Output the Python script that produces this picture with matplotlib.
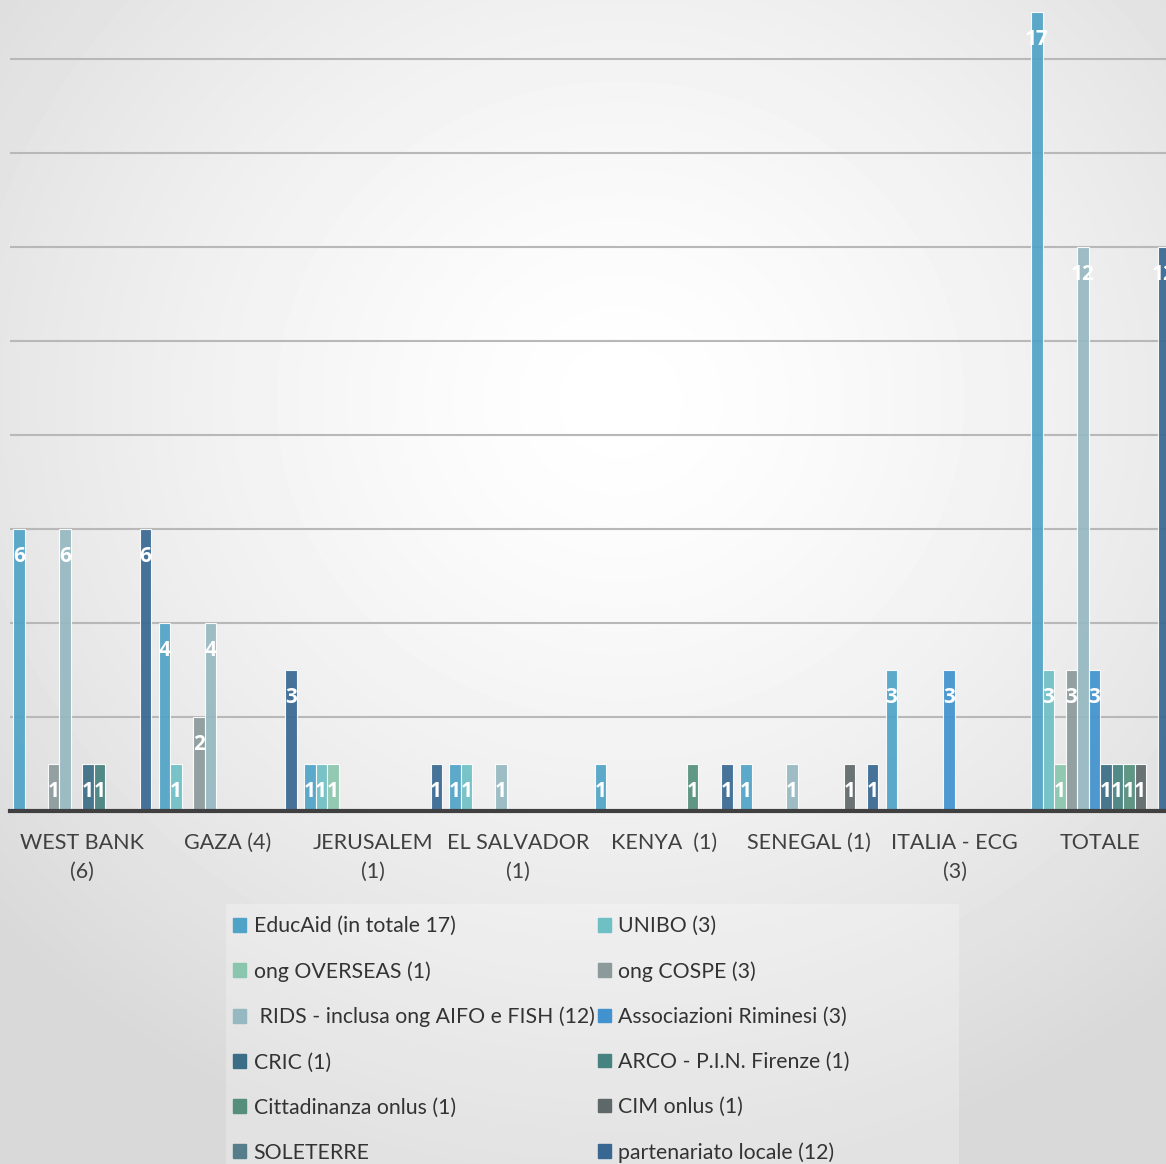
import numpy as np
import matplotlib.pyplot as plt

categories = ["WEST BANK\n(6)", "GAZA (4)", "JERUSALEM\n(1)", "EL SALVADOR\n(1)",
              "KENYA  (1)", "SENEGAL (1)", "ITALIA - ECG\n(3)", "TOTALE"]

series_names = ["EducAid (in totale 17)", "UNIBO (3)", "ong OVERSEAS (1)", "ong COSPE (3)",
                " RIDS - inclusa ong AIFO e FISH (12)", "Associazioni Riminesi (3)",
                "CRIC (1)", "ARCO - P.I.N. Firenze (1)", "Cittadinanza onlus (1)",
                "CIM onlus (1)", "SOLETERRE", "partenariato locale (12)"]

# one list per series, values per category
educaid      = [6, 4, 1, 1, 1, 1, 3, 17]
unibo        = [0, 1, 1, 1, 0, 0, 0, 3]
overseas     = [0, 0, 1, 0, 0, 0, 0, 1]
cospe        = [1, 2, 0, 0, 0, 0, 0, 3]
rids         = [6, 4, 0, 1, 0, 1, 0, 12]
riminesi     = [0, 0, 0, 0, 0, 0, 3, 3]
cric         = [1, 0, 0, 0, 0, 0, 0, 1]
arco         = [1, 0, 0, 0, 0, 0, 0, 1]
cittadinanza = [0, 0, 0, 0, 1, 0, 0, 1]
cim          = [0, 0, 0, 0, 0, 1, 0, 1]
soleterre    = [0, 0, 0, 0, 0, 0, 0, 0]
partenariato = [6, 3, 1, 0, 1, 1, 0, 12]

values = [educaid, unibo, overseas, cospe, rids, riminesi, cric, arco,
          cittadinanza, cim, soleterre, partenariato]

colors = ["#4fa3c7", "#6fc0c5", "#8ac6ae", "#8c9a9b", "#96b8c1", "#4192cf",
          "#3b6e86", "#46827f", "#558f7c", "#5f6869", "#557d8a", "#386792"]

W, H = 1166, 1164
fig = plt.figure(figsize=(W / 100, H / 100), dpi=100)

# radial grey background
bg = fig.add_axes([0, 0, 1, 1], zorder=-2)
yy, xx = np.mgrid[0:H, 0:W]
r = np.sqrt(((xx - 620) / 840.0) ** 2 + ((yy - 400) / 780.0) ** 2)
shade = 1.0 - 0.15 * np.clip(r, 0, 1) ** 1.4
bg.imshow(shade, cmap="gray", vmin=0, vmax=1, aspect="auto", interpolation="bilinear")
bg.axis("off")

# legend box (slightly lighter panel)
bg.add_patch(plt.Rectangle((225, 903), 733, 270, color="white", alpha=0.25, lw=0))

cat_w = 145.4  # pixels per category
left_px = 9.5
base_px = 811
unit_px = 47.0

ax = fig.add_axes([left_px / W, (H - base_px) / H, (W - left_px) / W, base_px / H])
ax.patch.set_alpha(0)
ax.set_xlim(-0.5, -0.5 + (W - left_px) / cat_w)
ax.set_ylim(0, base_px / unit_px)

for g in range(2, 18, 2):
    ax.axhline(g, color="#b8b8b8", lw=1.5, zorder=1)

bw = 11.5 / cat_w
x = np.arange(len(categories))
for i, (vals, c) in enumerate(zip(values, colors)):
    pos = x + bw * (i - 5.5)
    vals = np.array(vals)
    mask = vals > 0
    ax.bar(pos[mask], vals[mask], width=bw, color=c, alpha=0.92,
           edgecolor=(1, 1, 1, 0.5), lw=0.8, zorder=2)
    for p, v in zip(pos[mask], vals[mask]):
        ax.text(p, v - 0.58, str(v), ha="center", va="center", color="white",
                fontsize=15, fontweight="bold", family="Open Sans", zorder=4,
                clip_on=False)

for s in ["left", "right", "top"]:
    ax.spines[s].set_visible(False)
ax.spines["bottom"].set_color("#404040")
ax.spines["bottom"].set_linewidth(3)
ax.spines["bottom"].set_zorder(5)
ax.set_yticks([])
ax.set_xticks(x)
ax.set_xticklabels(categories, fontsize=15.5, color="#404040", family="Lato",
                   linespacing=1.55, va="top")
ax.tick_params(axis="x", length=0, pad=16)

# legend: Excel fills rows, matplotlib fills columns -> reorder
order = list(range(0, 12, 2)) + list(range(1, 12, 2))
handles = [plt.Rectangle((0, 0), 1, 1, color=c) for c in colors]
leg = fig.legend([handles[k] for k in order], [series_names[k] for k in order],
                 loc="upper left", bbox_to_anchor=(214 / W, 1 - 897 / H), ncol=2,
                 frameon=False, prop={"family": "Lato", "size": 15.3},
                 labelcolor="#333333", handlelength=0.62, handleheight=0.62,
                 handletextpad=0.35, columnspacing=0.15, labelspacing=1.18)

fig.savefig("out.png", dpi=100)
